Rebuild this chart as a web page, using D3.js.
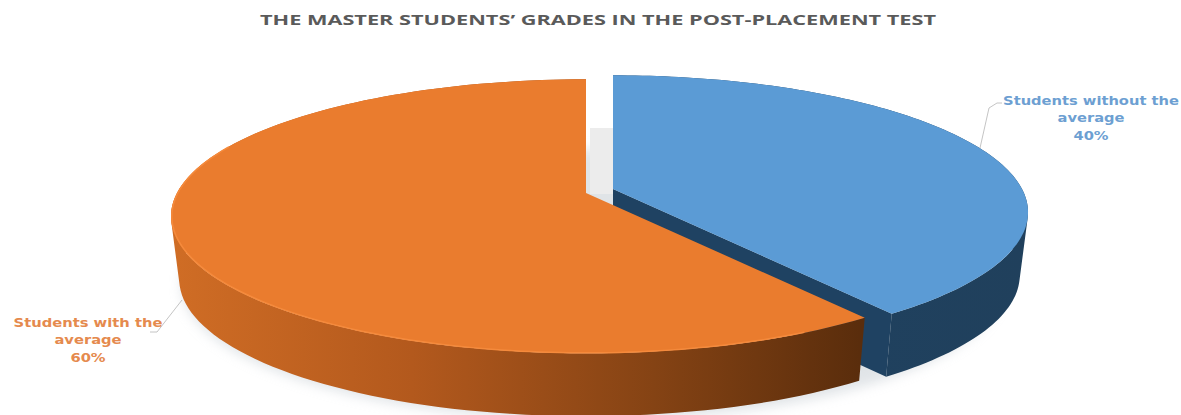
<!DOCTYPE html>
<html>
<head>
<meta charset="utf-8">
<script src="https://cdn.jsdelivr.net/npm/d3@7/dist/d3.min.js"></script>
<style>
html,body{margin:0;padding:0;background:#fff;overflow:hidden}
</style>
</head>
<body>
<svg id="chart" width="1181" height="415"></svg>
<script>
const chartTitle = "THE MASTER STUDENTS\u2019 GRADES IN THE POST-PLACEMENT TEST";
const categories = ["Students without the average", "Students with the average"];
const shares = [40, 60];
const labelLines = [["Students without the", "average", "40%"], ["Students with the", "average", "60%"]];
const topColors = ["#5b9bd5", "#ea7c2e"];
const textColors = ["#6d9fd2", "#e58a4e"];

const width = 1181, height = 415;
const svg = d3.select("#chart");
const defs = svg.append("defs");

// Tilted-disc projection: the rim is nearer the viewer at the front of the pie.
const radiusX = 409, radiusY = 133, tilt = 0.17, wallDrop = 63, wallShrink = 0.98;
const project = (angle, r, c) => {
  const u = Math.sin(angle) * r, v = Math.cos(angle) * r, w = 1 + tilt * v;
  return [c[0] + radiusX * u / w, c[1] - radiusY * v / w];
};
const lower = (p, c) => [c[0] + (p[0] - c[0]) * wallShrink, p[1] + wallDrop];
const steps = (a0, a1) => d3.range(0, 121).map(i => a0 + (a1 - a0) * i / 120);
const outline = d3.line();

const arcs = d3.pie().sort(null).value(d => d)(shares);
const centers = [[613, 189], [586, 193]];

// Soft floor shadow under the discs
defs.append("filter").attr("id", "soft").attr("x", "-10%").attr("y", "-30%").attr("width", "120%").attr("height", "160%")
  .append("feGaussianBlur").attr("stdDeviation", 6);
svg.append("path")
  .attr("d", outline(steps(0, 2 * Math.PI).map(a => project(a, 0.99, [592, 262]))) + "Z")
  .attr("fill", "#c3cad0").attr("opacity", 0.5).attr("filter", "url(#soft)");
svg.append("rect").attr("x", 590).attr("y", 128).attr("width", 23).attr("height", 66).attr("fill", "#ececec");

// Side-wall shading
const wallGrad = [
  {id: "wallBlue", x1: 613, x2: 1030, stops: [["0%", "#1f4262"], ["100%", "#20405c"]]},
  {id: "wallOrange", x1: 170, x2: 860, stops: [["0%", "#d06d25"], ["35%", "#b3591d"], ["70%", "#854314"], ["100%", "#5a2d0c"]]}
];
wallGrad.forEach(g => {
  const lg = defs.append("linearGradient").attr("id", g.id).attr("gradientUnits", "userSpaceOnUse")
    .attr("x1", g.x1).attr("x2", g.x2).attr("y1", 0).attr("y2", 0);
  g.stops.forEach(s => lg.append("stop").attr("offset", s[0]).attr("stop-color", s[1]));
});

arcs.forEach((d, i) => {
  const c = centers[i];
  const g = svg.append("g").attr("class", "slice");
  const rim = steps(d.startAngle, d.endAngle).map(a => project(a, 1, c));
  const fill = i === 0 ? "url(#wallBlue)" : "url(#wallOrange)";

  // Inner cut face, visible only on the blue slice where the slices separate
  if (i === 0) {
    const end = rim[rim.length - 1];
    g.append("path").attr("d", outline([c, end, lower(end, c), lower(c, c)]) + "Z").attr("fill", "#1f4262");
  }
  // The wall is one path of short quads, all wound the same way so overlaps stay filled
  const wound = q => d3.polygonArea(q) < 0 ? q.reverse() : q;
  const wallPath = d3.pairs(rim).map(([a, b]) => outline(wound([a, b, lower(b, c), lower(a, c)])) + "Z").join("");
  g.append("path").attr("class", "wall").attr("d", wallPath).attr("fill", fill);
  g.append("path").attr("d", outline([c].concat(rim)) + "Z").attr("fill", topColors[i]);
  // Light bevel along the front of the orange rim
  if (i === 1) {
    const front = steps(Math.PI * 0.85, Math.PI * 1.62).map(a => project(a, 0.998, c));
    g.append("path").attr("d", outline(front)).attr("fill", "none").attr("stroke", "#f58a3c").attr("stroke-width", 1.5);
  }
});

// Chart title, set wide
svg.append("text").attr("x", 598).attr("y", 25).attr("text-anchor", "middle")
  .attr("font-family", "Open Sans, sans-serif").attr("font-size", 15).attr("font-weight", 700)
  .attr("fill", "#5a5a5a").attr("textLength", 676).attr("lengthAdjust", "spacingAndGlyphs").text(chartTitle);

// Data labels with thin leader lines
const labelAnchors = [[1091, 105], [88, 327]];
const labelWidths = [176, 149];
const leaders = [[[980, 148], [989, 108], [997, 103], [1002, 103]], [[182, 300], [157, 332], [150, 332]]];
labelLines.forEach((lines, i) => {
  const t = svg.append("g").attr("transform", `translate(${labelAnchors[i][0]},${labelAnchors[i][1]})`)
    .append("text").attr("text-anchor", "middle").attr("font-family", "DejaVu Sans, sans-serif")
    .attr("font-size", 11.5).attr("font-weight", 700).attr("fill", textColors[i]);
  lines.forEach((s, k) => t.append("tspan").attr("x", 0).attr("y", k * 17.5).text(s));
  const natural = t.select("tspan").node().getComputedTextLength();
  t.attr("transform", `scale(${labelWidths[i] / natural},1)`);
  svg.append("path").attr("d", outline(leaders[i])).attr("fill", "none").attr("stroke", "#b5b5b5").attr("stroke-width", 0.8);
});
</script>
</body>
</html>
